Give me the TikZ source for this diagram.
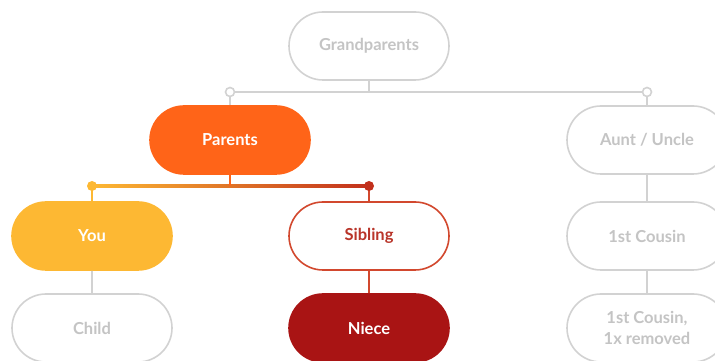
\documentclass[tikz,border=0pt]{standalone}
\usepackage{fontspec}
\setmainfont{Lato}
\usetikzlibrary{shapes.misc}

\definecolor{lineGray}{HTML}{D2D2D2}
\definecolor{textGray}{HTML}{C4C4C4}
\definecolor{parentOrange}{HTML}{FF6418}
\definecolor{youYellow}{HTML}{FDB833}
\definecolor{siblingRed}{HTML}{D2482E}
\definecolor{siblingText}{HTML}{B9352A}
\definecolor{nieceRed}{HTML}{A91414}
\definecolor{dotRed}{HTML}{C2301C}

\begin{document}
\begin{tikzpicture}[x=1pt,y=1pt,
  box/.style={rounded rectangle, minimum width=160pt, minimum height=68pt,
    line width=1.6pt, inner sep=0pt, align=center,
    font=\bfseries\fontsize{16.5}{21}\selectfont},
  greybox/.style={box, draw=lineGray, fill=white, text=textGray},
  filledbox/.style={box, draw=#1, fill=#1, text=white},
  outlinebox/.style={box, draw=siblingRed, fill=white, text=siblingText},
  link/.style={line width=1.8pt},
  opendot/.style={circle, draw=lineGray, fill=white, line width=1.6pt,
    minimum size=9pt, inner sep=0pt},
  soliddot/.style={circle, fill=#1, minimum size=10pt, inner sep=0pt}
]
\useasboundingbox (0,0) rectangle (715,361);
\clip (0,0) rectangle (715,361);

% family members
\node[greybox]            (grand)   at (369,315) {Grandparents};
\node[filledbox=parentOrange] (parents) at (230,221) {Parents};
\node[greybox]            (aunt)    at (647,221) {Aunt / Uncle};
\node[filledbox=youYellow] (you)    at (92,125)  {You};
\node[outlinebox]         (sibling) at (369,125) {Sibling};
\node[greybox]            (cousin)  at (647,125) {1st Cousin};
\node[greybox]            (child)   at (92,33)   {Child};
\node[filledbox=nieceRed] (niece)   at (369,33)  {Niece};
\node[greybox]            (removed) at (647,33)  {1st Cousin,\\1x removed};

% grandparents' branch
\coordinate (gl) at (230,269);
\coordinate (gr) at (647,269);
\draw[link, lineGray] (gl) -- (gr);
\draw[link, lineGray] (grand.south) -- (grand.south |- gl);
\draw[link, lineGray] (gl) -- (parents.north);
\draw[link, lineGray] (gr) -- (aunt.north);
\node[opendot] (gldot) at (gl) {};
\node[opendot] (grdot) at (gr) {};

% parents' branch
\coordinate (pl) at (92,175);
\coordinate (pr) at (369,175);
\shade[left color=youYellow, middle color=parentOrange, right color=dotRed]
  ([yshift=-1.1pt]pl) rectangle ([yshift=1.1pt]pr);
\draw[link, parentOrange] (parents.south) -- (parents.south |- pl);
\draw[link, youYellow] (pl) -- (you.north);
\draw[link, siblingRed] (pr) -- (sibling.north);
\node[soliddot=youYellow] (pldot) at (pl) {};
\node[soliddot=dotRed]    (prdot) at (pr) {};

% next generation
\draw[link, lineGray] (you) -- (child);
\draw[link, siblingRed] (sibling) -- (niece);
\draw[link, lineGray] (aunt) -- (cousin);
\draw[link, lineGray] (cousin) -- (removed);
\end{tikzpicture}
\end{document}
